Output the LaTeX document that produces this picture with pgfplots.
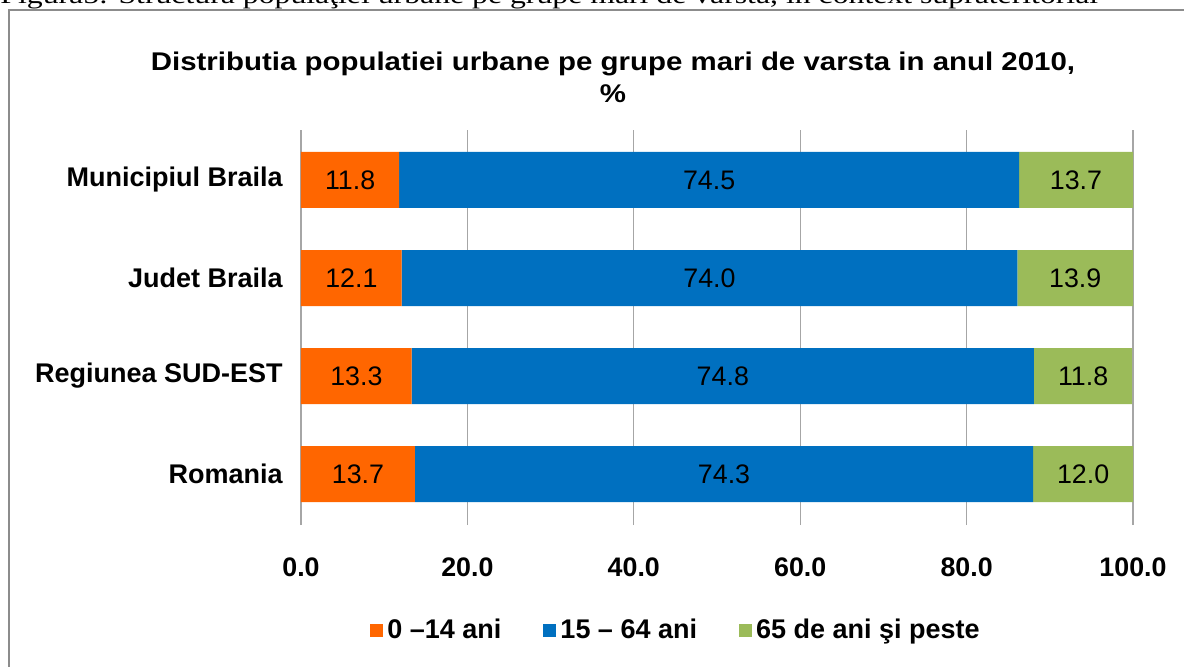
\documentclass[border=0pt]{standalone}
\usepackage{pgfplots}
\pgfplotsset{compat=1.18}
\usepackage{pgfplotstable}
\usepackage{fontspec}
\setmainfont{Liberation Sans}
\newfontfamily\capfont[FakeStretch=1.25]{Liberation Serif}
\newfontfamily\titlefont[FakeStretch=1.15]{Liberation Sans}
\definecolor{cOrange}{HTML}{FF6600}
\definecolor{cBlue}{HTML}{0070C0}
\definecolor{cGreen}{HTML}{9BBB59}
\definecolor{cGrid}{HTML}{A6A6A6}
\definecolor{cFrame}{HTML}{8C8C8C}

\pgfplotstableread{
pos a b c
0 13.7 74.3 12.0
1 13.3 74.8 11.8
2 12.1 74.0 13.9
3 11.8 74.5 13.7
}\data

\begin{document}
\begin{tikzpicture}
\useasboundingbox (0pt,0pt) rectangle (592pt,333pt);
\node[anchor=base west, inner sep=0, font=\capfont\fontsize{12.7}{15}\selectfont] at (0pt,331pt) {Figura5: Structura populaţiei urbane pe grupe mari de varsta, in context suprateritorial};
\draw[cFrame, line width=1pt] (4.25pt,-2pt) -- (4.25pt,327.75pt) -- (594pt,327.75pt);
\node[anchor=base, inner sep=0, font=\titlefont\bfseries\fontsize{12.8}{14}\selectfont] at (306.5pt,298pt) {Distributia populatiei urbane pe grupe mari de varsta in anul 2010,};
\node[anchor=base, inner sep=0, font=\titlefont\bfseries\fontsize{12.8}{14}\selectfont] at (306.5pt,282pt) {\%};
\begin{axis}[
  at={(150.5pt,70.5pt)}, anchor=south west,
  scale only axis, width=416pt, height=197.5pt,
  xbar stacked, bar width=28pt,
  xmin=0, xmax=100, ymin=-0.52, ymax=3.51,
  ytick={0,1,2,3},
  yticklabels={Romania, Regiunea SUD-EST, Judet Braila, Municipiul Braila},
  xtick={0,20,40,60,80,100},
  xticklabels={0.0,20.0,40.0,60.0,80.0,100.0},
  xmajorgrids, grid style={cGrid, line width=0.6pt},
  axis line style={draw=none},
  major tick length=0,
  xticklabel style={font=\bfseries\fontsize{13.4}{15}\selectfont, anchor=north, inner sep=0, yshift=-16pt},
  yticklabel style={font=\bfseries\fontsize{13.5}{16}\selectfont, anchor=east, inner sep=0, xshift=-9pt},
  legend columns=3,
  legend style={draw=none, fill=none, at={(axis description cs:0.452,-0.266)}, anchor=center, font=\bfseries\fontsize{13.5}{15}\selectfont, /tikz/every even column/.append style={column sep=19pt}},
  legend image code/.code={\fill[#1] (-2.5pt,-3.25pt) rectangle (4pt,3.25pt);},
]
\addplot[fill=cOrange, draw=none] table[x=a, y=pos] {\data};
\addplot[fill=cBlue, draw=none] table[x=b, y=pos] {\data};
\addplot[fill=cGreen, draw=none] table[x=c, y=pos] {\data};
\legend{0 –14 ani, 15 – 64 ani, 65 de ani şi peste}
\end{axis}
\begin{axis}[
  at={(150.5pt,70.5pt)}, anchor=south west,
  scale only axis, width=416pt, height=197.5pt,
  xmin=0, xmax=100, ymin=-0.52, ymax=3.51,
  hide axis,
  nodes near coords, point meta=explicit symbolic,
  every node near coord/.append style={anchor=center, font=\fontsize{13.4}{15}\selectfont, inner sep=0, text=black},
]
\addplot[draw=none, mark=none] table[x expr=\thisrow{a}/2, y=pos, meta=a] {\data};
\addplot[draw=none, mark=none] table[x expr=\thisrow{a}+\thisrow{b}/2, y=pos, meta=b] {\data};
\addplot[draw=none, mark=none] table[x expr=\thisrow{a}+\thisrow{b}+\thisrow{c}/2, y=pos, meta=c] {\data};
\end{axis}
\end{tikzpicture}
\end{document}
